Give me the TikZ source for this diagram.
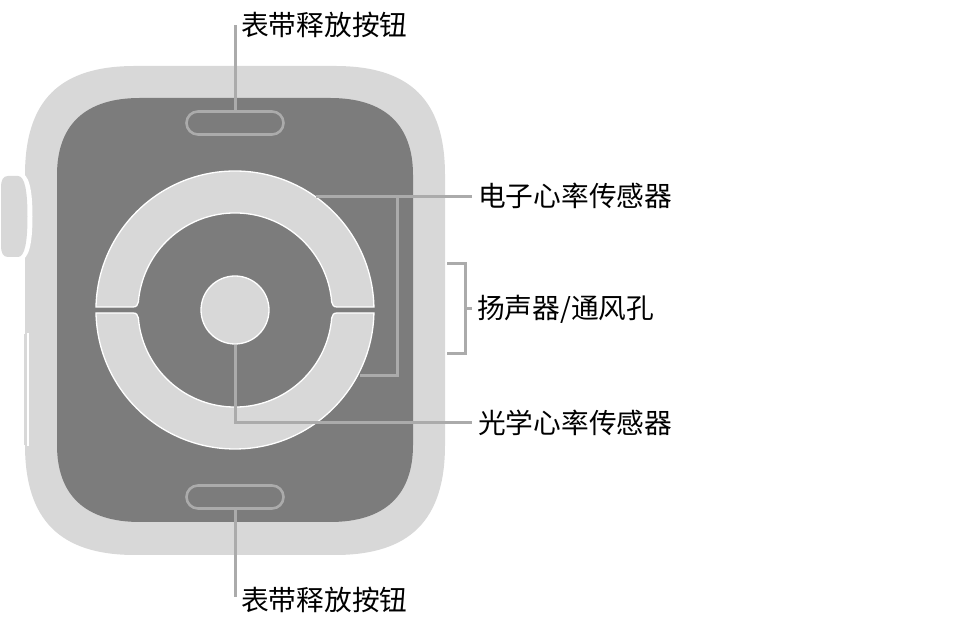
\documentclass[tikz,border=0pt]{standalone}
\usepackage{fontspec}
\newfontfamily\cjk{Noto Sans CJK SC}[Scale=1]
\definecolor{caselight}{HTML}{D8D8D8}
\definecolor{casedark}{HTML}{7C7C7C}
\definecolor{leader}{HTML}{ABABAB}
\usetikzlibrary{shapes.misc}
\tikzset{
  partfill/.style={fill=caselight,draw=white,line width=1.3pt},
  leadline/.style={draw=leader,line width=3pt},
  lbl/.style={anchor=west,inner sep=0pt,font=\cjk\fontsize{27.7}{30}\selectfont,text=black},
  pill/.style={draw=leader,line width=2.6pt,rounded rectangle,minimum width=97pt,minimum height=23pt,inner sep=0pt,fill=casedark},
  sensor/.style={circle,fill=caselight,draw=white,line width=1.3pt,minimum size=68pt,inner sep=0pt}
}
\begin{document}
\begin{tikzpicture}[x=1pt,y=1pt]
\useasboundingbox (0,0) rectangle (958,620);
% case
\path[fill=caselight] (25,445) .. controls (25,520) and (60,554) .. (135,554)
  -- (335,554) .. controls (410,554) and (445,520) .. (445,445)
  -- (445,175) .. controls (445,100) and (410,65) .. (335,65)
  -- (135,65) .. controls (60,65) and (25,100) .. (25,175) -- cycle;
% back
\path[fill=casedark] (57,445) .. controls (57,495) and (85,522) .. (140,522)
  -- (330,522) .. controls (385,522) and (413,495) .. (413,445)
  -- (413,175) .. controls (413,125) and (385,98) .. (330,98)
  -- (140,98) .. controls (85,98) and (57,125) .. (57,175) -- cycle;
% crown
\path[fill=white] (-8,447) -- (20,447) .. controls (29,447) and (32.5,430) .. (32.5,403.5)
  .. controls (32.5,377) and (29,360) .. (20,360) -- (-8,360) -- cycle;
\path[fill=caselight] (8,444) -- (18,444) .. controls (25,444) and (27.5,428) .. (27.5,403.5)
  .. controls (27.5,379) and (25,363) .. (18,363) -- (8,363)
  .. controls (3,363) and (1,367) .. (1,375) -- (1,432) .. controls (1,440) and (3,444) .. (8,444) -- cycle;
% side button
\fill[white] (27.3,174) rectangle (28.5,287);
\fill[caselight] (24,175) rectangle (27.3,286);
% ring segments
\path[partfill] (96,313) arc[start angle=178.76,end angle=1.24,radius=139]
  -- (337,313) .. controls (333.5,313) and (332.2,315) .. (331.7,318)
  arc[start angle=4.7,end angle=175.3,radius=97]
  .. controls (137.8,315) and (136.5,313) .. (133,313) -- cycle;
\path[partfill] (96,307) arc[start angle=181.24,end angle=358.76,radius=139]
  -- (337,307) .. controls (333.5,307) and (332.2,305) .. (331.7,302)
  arc[start angle=-4.7,end angle=-175.3,radius=97]
  .. controls (137.8,305) and (136.5,307) .. (133,307) -- cycle;
% nodes
\node[sensor] (center) at (235,310) {};
\node[pill] (btop) at (235,497) {};
\node[pill] (bbot) at (235,123) {};
\node[lbl] (ltop) at (241,595) {表带释放按钮};
\node[lbl] (lbot) at (241,20) {表带释放按钮};
\node[lbl] (lelec) at (478,424) {电子心率传感器};
\node[lbl] (lspk) at (477,311) {扬声器/通风孔};
\node[lbl] (lopt) at (478,197) {光学心率传感器};
\coordinate (elecA) at (316,423);
\coordinate (elecB) at (360,244);
\coordinate (spkT) at (447,356);
\coordinate (spkB) at (447,266);
\coordinate (spkM) at (465,311);
% leaders
\draw[leadline] (btop.north) -- (235,595);
\draw[leadline] (bbot.south) -- (235,23);
\draw[leadline] ([xshift=-6pt,yshift=-1pt]lelec.west) -- (elecA);
\draw[leadline] (397,423) |- (elecB);
\draw[leadline] (center.south) |- ([xshift=-6pt]lopt.west);
\draw[leadline] (spkT) -| (465,266) -- (spkB);
\draw[leadline] (spkM) -- ([xshift=-5pt]lspk.west);
\end{tikzpicture}
\end{document}
